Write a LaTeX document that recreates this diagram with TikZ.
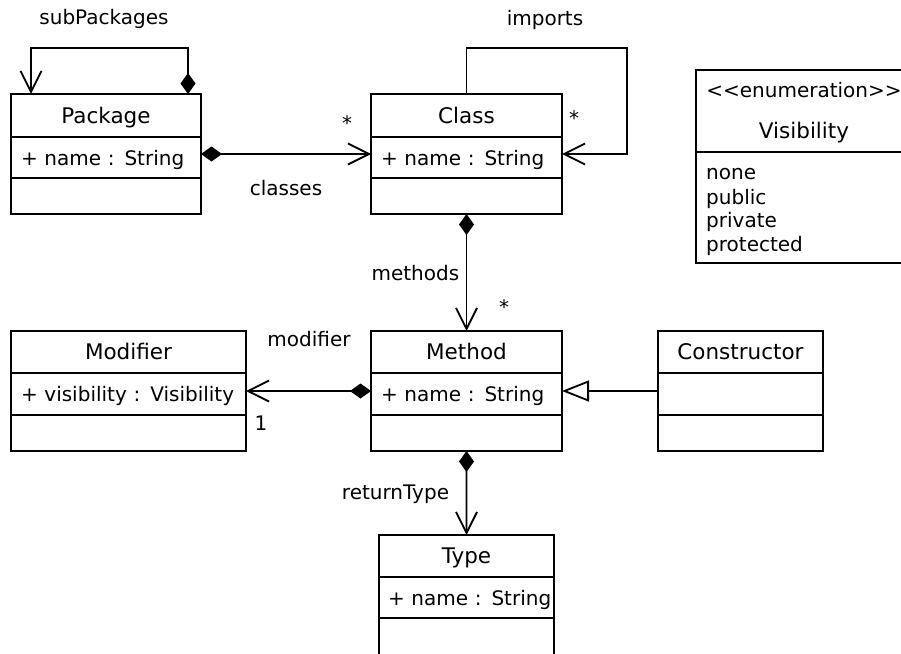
\documentclass[tikz,border=0pt]{standalone}
\usepackage{fontspec}
\setmainfont{DejaVu Sans}
\usetikzlibrary{arrows.meta,calc}
\newcommand\tfnt{\fontsize{21.5bp}{25bp}\selectfont}
\newcommand\bfnt{\fontsize{20bp}{24bp}\selectfont}
\tikzset{
 box/.style={draw, line width=1.8bp, inner sep=0pt, outer sep=0pt, anchor=north west},
 ttl/.style={box, font=\tfnt, text height=19bp, text depth=3.5bp},
 att/.style={box, font=\bfnt, align=left, inner xsep=10bp, text height=18bp, text depth=3bp},
 lbl/.style={font=\bfnt, inner sep=0pt, anchor=base},
 link/.style={line width=1.8bp},
 comp/.style={link, {Diamond[length=21bp,width=15bp]}-{Straight Barb[length=21bp,width=21bp]}},
 gen/.style={link, -{Triangle[open,length=27bp,width=21bp,fill=white]}},
}
\begin{document}
\begin{tikzpicture}[x=1bp,y=-1bp]
\clip (0,0) rectangle (901,654);
\fill[white] (0,0) rectangle (901,654);
% Package
\node[ttl, minimum width=190bp, minimum height=43bp] (pkgT) at (11,94) {Package};
\node[att, text width=170bp, minimum width=190bp, minimum height=41bp] (pkgA) at (11,137) {\mbox{+ name : String}};
\node[box, minimum width=190bp, minimum height=36bp] (pkgO) at (11,178) {};
% Class
\node[ttl, minimum width=191bp, minimum height=43bp] (clsT) at (371,94) {Class};
\node[att, text width=171bp, minimum width=191bp, minimum height=41bp] (clsA) at (371,137) {\mbox{+ name : String}};
\node[box, minimum width=191bp, minimum height=36bp] (clsO) at (371,178) {};
% Method
\node[ttl, minimum width=191bp, minimum height=42bp] (mthT) at (371,331) {Method};
\node[att, text width=171bp, minimum width=191bp, minimum height=42bp] (mthA) at (371,373) {\mbox{+ name : String}};
\node[box, minimum width=191bp, minimum height=36bp] (mthO) at (371,415) {};
% Modifier
\node[ttl, minimum width=235bp, minimum height=42bp] (modT) at (11,331) {Modifier};
\node[att, text width=215bp, minimum width=235bp, minimum height=42bp] (modA) at (11,373) {\mbox{+ visibility : Visibility}};
\node[box, minimum width=235bp, minimum height=36bp] (modO) at (11,415) {};
% Constructor
\node[ttl, minimum width=165bp, minimum height=42bp] (conT) at (658,331) {Constructor};
\node[box, minimum width=165bp, minimum height=42bp] (conA) at (658,373) {};
\node[box, minimum width=165bp, minimum height=36bp] (conO) at (658,415) {};
% Type
\node[ttl, minimum width=175bp, minimum height=42bp] (typT) at (379,535) {Type};
\node[att, inner xsep=9bp, text width=157bp, minimum width=175bp, minimum height=41bp] (typA) at (379,577) {\mbox{+ name : String}};
\node[box, minimum width=175bp, minimum height=50bp] (typO) at (379,618) {};
% Visibility enumeration
\node[box, minimum width=216bp, minimum height=82bp] (visT) at (696,70) {};
\node[lbl] (visS) at (804,98) {<\kern0pt<enumeration>\kern0pt>};
\node[lbl, font=\tfnt] (visN) at (804,138.3) {Visibility};
\node[box, minimum width=216bp, minimum height=111bp] (visL) at (696,152) {};
\node[lbl, anchor=base west] (v1) at (706,180) {none};
\node[lbl, anchor=base west] (v2) at (706,204) {public};
\node[lbl, anchor=base west] (v3) at (706,227.5) {private};
\node[lbl, anchor=base west] (v4) at (706,251) {protected};
% connectors
\draw[comp] ($(pkgT.north east)+(-13,0)$) -- ++(0,-46) -| ($(pkgT.north west)+(20,0)$);
\draw[comp] ($(pkgA.east)+(0,-3.5)$) -- ($(clsA.west)+(0,-3.5)$);
\draw[link, -{Straight Barb[length=21bp,width=21bp]}] (clsT.north) -- ++(0,-46) -| ($(clsA.east)+(65,-3.5)$) -- ($(clsA.east)+(0,-3.5)$);
\draw[comp] (clsO.south) -- (mthT.north);
\draw[comp] ($(mthA.west)+(0,-3)$) -- ($(modA.east)+(0,-3)$);
\draw[gen] ($(conA.west)+(0,-3)$) -- ($(mthA.east)+(0,-3)$);
\draw[comp] (mthO.south) -- (typT.north);
% labels
\node[lbl] (lSub) at (104,25) {subPackages};
\node[lbl] (lCls) at (286,195) {classes};
\node[lbl] (lCs) at (347,131) {*};
\node[lbl] (lImp) at (545,26) {imports};
\node[lbl] (lIs) at (574,126) {*};
\node[lbl] (lMth) at (415.4,280) {methods};
\node[lbl] (lMs) at (504,314) {*};
\node[lbl] (lMod) at (309,346.7) {modifier};
\node[lbl] (lOne) at (261,430) {1};
\node[lbl] (lRet) at (395.5,499) {returnType};
\end{tikzpicture}
\end{document}
